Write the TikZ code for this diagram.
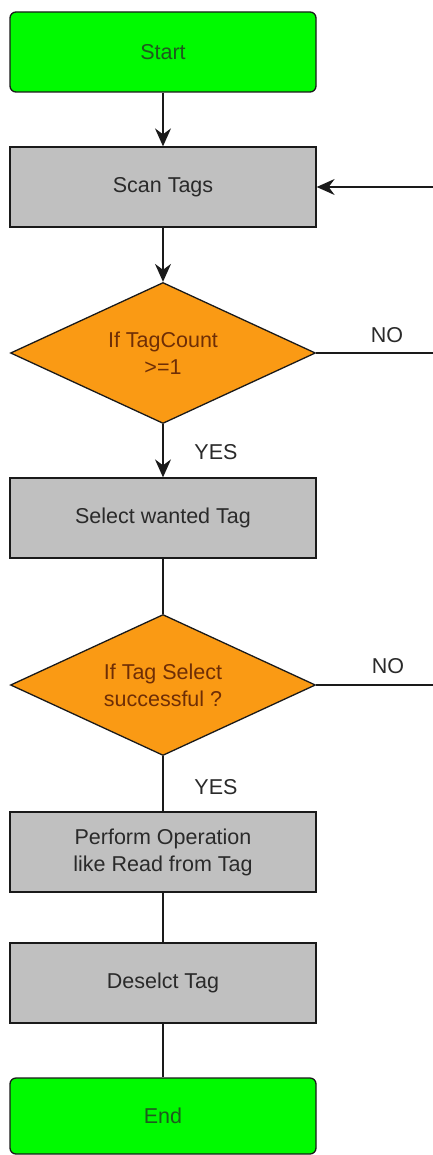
\documentclass[tikz,border=0pt]{standalone}
\usepackage{fontspec}
\setmainfont{Liberation Sans}
\usetikzlibrary{shapes.geometric,arrows.meta}
\definecolor{termgreen}{HTML}{00FA00}
\definecolor{termtext}{HTML}{1E5A1E}
\definecolor{boxgray}{HTML}{C0C0C0}
\definecolor{boxtext}{HTML}{2A2A2A}
\definecolor{decorange}{HTML}{FA9A14}
\definecolor{dectext}{HTML}{6E2E06}
\definecolor{linegray}{HTML}{1A1A1A}

\begin{document}
\begin{tikzpicture}[x=1pt,y=-1pt,
    font=\fontsize{21.5}{27}\selectfont,
    terminal/.style={rectangle,rounded corners=6pt,draw=linegray,line width=1.3pt,fill=termgreen,text=termtext,minimum width=306pt,minimum height=80pt},
    process/.style={rectangle,draw=linegray,line width=1.3pt,fill=boxgray,text=boxtext,minimum width=306pt,minimum height=80pt,align=center},
    decision/.style={diamond,aspect=2.16,inner sep=0pt,draw=linegray,line width=1.3pt,fill=decorange,text=dectext,minimum width=305pt,minimum height=141pt,align=center},
    answer/.style={text=boxtext},
    flow/.style={draw=linegray,line width=1.1pt},
    into/.style={flow,-{Stealth[length=18pt,width=16pt,inset=6pt]}}]
                            \useasboundingbox (0,0) rectangle (433,1155);
                            \begin{scope}
                                \node[terminal] (start) at (163,52) {Start};
                                \node[process] (scan) at (163,187) {Scan Tags};
                                \node[decision] (count) at (163,353) {If TagCount\\>=1};
                                \node[process] (select) at (163,518) {Select wanted Tag};
                                \node[decision] (check) at (163,685) {If Tag Select\\successful ?};
                                \node[process] (perform) at (163,852) {Perform Operation\\like Read from Tag};
                                \node[process] (deselect) at (163,983) {Deselct Tag};
                                \node[terminal,minimum height=76pt] (end) at (163,1116) {End};
                                \coordinate (rail) at (437,0);
                            \end{scope}
                            \begin{scope}
                                \draw[into] (start) -- (scan);
                                \draw[into] (scan) -- (count);
                                \draw[into] (count) -- (select);
                                \draw[flow] (select) -- (check);
                                \draw[flow] (check) -- (perform);
                                \draw[flow] (perform) -- (deselect);
                                \draw[flow] (deselect) -- (end);
                                \draw[into] (count.east) -- (count.east -| rail) |- (scan.east);
                                \draw[flow] (check.east) -- (check.east -| rail) -- (count.east -| rail);
                            \end{scope}
                            \node[answer] (yes1) at (216,452) {YES};
                            \node[answer] (yes2) at (216,787) {YES};
                            \node[answer] (no1) at (387,335) {NO};
                            \node[answer] (no2) at (388,666) {NO};
                        \end{tikzpicture}
\end{document}
